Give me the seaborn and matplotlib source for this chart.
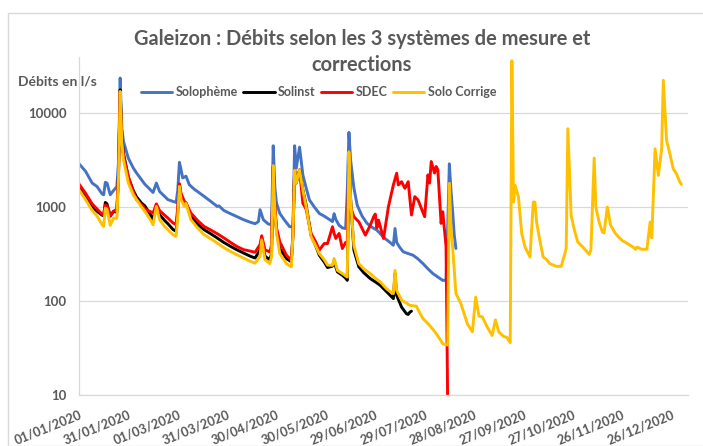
import pandas as pd
import matplotlib
matplotlib.use("Agg")
import matplotlib.pyplot as plt
import matplotlib.dates as mdates
import matplotlib.ticker as mticker
from matplotlib.patches import Rectangle
import seaborn as sns

START = pd.Timestamp("2020-01-01")

# Daily discharge (l/s) per measuring system, keyed by day number since 01/01/2020
solopheme_days = [0, 4, 8, 11, 14, 15, 16, 17, 19, 21, 23, 24, 25, 26, 27, 30, 33, 35, 38, 40,
                  43, 45, 47, 49, 52, 54, 57, 59, 60, 61, 62, 63, 65, 67, 70, 73, 76, 80, 84, 85,
                  88, 92, 96, 100, 104, 107, 109, 110, 112, 115, 117, 118, 119, 120, 122, 125, 128, 130, 131, 132,
                  134, 136, 138, 140, 143, 146, 149, 152, 154, 155, 156, 158, 160, 162, 163, 164, 165, 167, 169, 172,
                  175, 178, 181, 184, 186, 189, 191, 192, 193, 195, 197, 200, 203, 206, 209, 212, 215, 218, 221, 223,
                  224, 225, 226, 227, 228, 229]
solopheme_vals = [2890, 2400, 1800, 1650, 1380, 1350, 1830, 1800, 1350, 1500, 1650, 3000, 23600, 7000, 5000, 3300, 2600, 2300, 1950, 1750,
                  1550, 1430, 1800, 1460, 1300, 1200, 1150, 1120, 1500, 2990, 2500, 2040, 2130, 1730, 1550, 1420, 1300, 1150, 1015, 1030,
                  920, 850, 790, 733, 690, 665, 700, 937, 733, 660, 648, 4490, 1600, 1100, 855, 720, 617, 620, 4490, 2590,
                  4340, 2200, 1600, 1190, 1000, 855, 800, 740, 700, 850, 740, 640, 600, 591, 1500, 6230, 3180, 1600, 1050, 800,
                  670, 610, 568, 500, 462, 420, 392, 591, 420, 370, 334, 320, 307, 280, 250, 220, 196, 180, 166, 166,
                  600, 2880, 1500, 900, 500, 362]

solinst_days = [0, 4, 8, 11, 14, 15, 16, 17, 19, 21, 23, 24, 25, 26, 27, 30, 33, 35, 38, 40,
                43, 45, 47, 49, 52, 54, 57, 59, 60, 61, 62, 64, 65, 68, 72, 76, 80, 84, 88, 92,
                96, 100, 104, 107, 110, 111, 113, 116, 117, 118, 119, 120, 122, 126, 129, 130, 131, 132, 134, 136,
                138, 141, 144, 146, 149, 151, 154, 155, 157, 160, 162, 163, 164, 165, 167, 170, 173, 177, 180, 183,
                186, 188, 191, 192, 193, 196, 199, 200, 201, 202]
solinst_vals = [1660, 1300, 1015, 900, 820, 809, 1120, 1080, 800, 900, 880, 2200, 17700, 5500, 3750, 2040, 1500, 1280, 1100, 1030,
                850, 733, 1060, 828, 720, 665, 580, 551, 900, 1730, 1300, 1100, 1110, 797, 660, 574, 520, 468, 420, 382,
                350, 324, 300, 287, 350, 468, 300, 275, 320, 2710, 950, 560, 362, 283, 261, 520, 2480, 1800, 2480, 1520,
                1050, 500, 380, 307, 260, 227, 235, 261, 204, 188, 175, 166, 3900, 1250, 348, 231, 200, 173, 160, 147,
                130, 120, 106, 196, 115, 86, 73, 72, 76, 78]

sdec_days = [0, 4, 8, 11, 14, 15, 16, 17, 19, 21, 23, 24, 25, 26, 27, 30, 33, 35, 38, 40,
             43, 45, 47, 49, 52, 54, 57, 59, 60, 61, 62, 64, 65, 68, 72, 76, 80, 84, 88, 92,
             96, 100, 104, 107, 110, 111, 113, 116, 117, 118, 119, 120, 122, 126, 129, 130, 131, 132, 134, 136,
             138, 141, 144, 146, 149, 151, 154, 155, 156, 158, 160, 162, 163, 164, 165, 167, 170, 174, 177, 179,
             180, 181, 182, 185, 188, 191, 193, 194, 196, 198, 200, 202, 204, 206, 208, 210, 212, 213, 214, 216,
             217, 218, 220, 221, 223, 224]
sdec_vals = [1760, 1400, 1080, 950, 840, 828, 1050, 1030, 808, 900, 950, 2200, 16300, 5000, 3500, 2120, 1450, 1200, 1050, 953,
             900, 863, 1080, 914, 820, 764, 680, 648, 1000, 1770, 1400, 1150, 1100, 863, 720, 622, 570, 520, 470, 421,
             380, 352, 340, 330, 400, 495, 350, 333, 400, 2700, 1000, 600, 427, 307, 272, 500, 2480, 1900, 2480, 1100,
             950, 524, 420, 348, 409, 409, 617, 524, 463, 524, 362, 420, 420, 3740, 1000, 789, 697, 502, 642, 789,
             841, 600, 726, 463, 1010, 1720, 2290, 1720, 1860, 1580, 1860, 823, 1290, 1190, 968, 789, 2200, 1800, 3050, 2300,
             2700, 2500, 670, 891, 380, 8]

solo_corrige_days = [0, 4, 8, 11, 14, 15, 16, 17, 19, 21, 23, 24, 25, 26, 27, 30, 33, 35, 38, 40,
                     43, 45, 47, 49, 52, 54, 57, 59, 60, 61, 62, 64, 65, 68, 72, 76, 80, 84, 88, 92,
                     96, 100, 104, 107, 110, 111, 113, 116, 117, 118, 119, 120, 122, 126, 129, 130, 131, 132, 134, 136,
                     138, 141, 144, 146, 149, 151, 154, 155, 157, 160, 162, 163, 164, 165, 167, 170, 173, 177, 180, 183,
                     186, 188, 191, 192, 193, 196, 199, 201, 205, 207, 209, 211, 213, 215, 217, 219, 221, 224, 225, 226,
                     227, 229, 232, 234, 236, 239, 241, 243, 245, 248, 251, 253, 255, 258, 260, 262, 263, 264, 265, 267,
                     269, 271, 274, 276, 277, 278, 280, 282, 284, 286, 290, 293, 296, 297, 299, 301, 303, 307, 310, 311,
                     313, 314, 316, 318, 319, 321, 323, 326, 330, 334, 337, 338, 339, 342, 345, 347, 348, 350, 352, 354,
                     355, 357, 359, 361, 363, 365, 366]
solo_corrige_vals = [1530, 1200, 920, 800, 650, 622, 975, 950, 640, 764, 760, 2000, 17000, 5000, 3190, 1800, 1350, 1200, 1000, 900,
                     750, 648, 1015, 733, 620, 574, 510, 488, 800, 1660, 1200, 1015, 1100, 733, 600, 508, 460, 414, 370, 337,
                     310, 286, 265, 253, 300, 449, 275, 250, 300, 2760, 900, 524, 320, 250, 231, 500, 2480, 1800, 2480, 1520,
                     1010, 482, 380, 320, 275, 241, 240, 283, 212, 196, 185, 180, 3900, 1190, 392, 250, 220, 196, 175, 160,
                     140, 130, 120, 212, 130, 102, 95, 90, 88, 75, 65, 60, 55, 50, 45, 40, 35, 34, 1790, 600,
                     378, 120, 94, 73, 57, 47, 110, 69, 68, 53, 43, 63, 47, 42, 41, 36, 36000, 1130, 1700, 1280,
                     520, 375, 294, 1130, 1130, 692, 441, 294, 277, 250, 234, 234, 361, 6810, 815, 565, 425, 361, 313, 350,
                     3320, 1000, 692, 542, 530, 1000, 638, 520, 441, 401, 370, 355, 375, 355, 355, 692, 472, 4170, 2170, 4170,
                     22300, 5120, 3690, 2560, 2260, 1850, 1740]

tick_every_days = 30
n_ticks = 13
y_ticks = [10, 100, 1000, 10000]

TEXT = "#595959"
GRID = "#d9d9d9"

sns.set_style("white")
plt.rcParams["font.family"] = ["Lato", "DejaVu Sans"]

W, H = 703, 446
fig = plt.figure(figsize=(W / 100, H / 100), dpi=100)
fig.patches.append(Rectangle((8 / W, 0), 1, 1 - 13 / H, transform=fig.transFigure,
                             fill=False, edgecolor=GRID, lw=1))
ax = fig.add_axes([79 / W, 1 - 395 / H, (688 - 79) / W, (395 - 57) / H])


def to_dates(days):
    return START + pd.to_timedelta(days, unit="D")


series = [
    ("Solophème", solopheme_days, solopheme_vals, "#4472C4"),
    ("Solinst", solinst_days, solinst_vals, "#000000"),
    ("SDEC", sdec_days, sdec_vals, "#FF0000"),
    ("Solo Corrige", solo_corrige_days, solo_corrige_vals, "#FFC000"),
]
for name, d, v, c in series:
    frame = pd.DataFrame({"date": to_dates(d), "debit": v})
    sns.lineplot(data=frame, x="date", y="debit", ax=ax, color=c, lw=2.1,
                 label=name, legend=False)

ax.set_yscale("log")
ax.set_ylim(10, 39500)
ax.set_xlim(START, START + pd.Timedelta(days=370))

ax.yaxis.set_major_locator(mticker.FixedLocator(y_ticks))
ax.yaxis.set_major_formatter(mticker.FuncFormatter(lambda v, p: f"{v:.0f}"))
ax.yaxis.set_minor_locator(mticker.NullLocator())
ax.xaxis.set_major_locator(mticker.FixedLocator(
    [mdates.date2num(START + pd.Timedelta(days=tick_every_days * k)) for k in range(n_ticks)]))
ax.xaxis.set_major_formatter(mdates.DateFormatter("%d/%m/%Y"))

ax.grid(axis="y", color=GRID, lw=0.9)
ax.grid(axis="x", visible=False)
for s in ("top", "right"):
    ax.spines[s].set_visible(False)
for s in ("left", "bottom"):
    ax.spines[s].set_color(GRID)
    ax.spines[s].set_linewidth(0.9)
ax.set_xlabel("")
ax.set_ylabel("")
ax.tick_params(axis="both", length=0, colors=TEXT)
ax.tick_params(axis="y", pad=9, labelsize=9.5)
ax.tick_params(axis="x", pad=9.5, labelrotation=22, labelsize=9.2)
for lbl in ax.get_yticklabels():
    lbl.set_fontweight("bold")
for lbl in ax.get_xticklabels():
    lbl.set_ha("right")
    lbl.set_rotation_mode("anchor")
    lbl.set_fontweight("bold")

handles, labels = ax.get_legend_handles_labels()
leg = fig.legend(handles, labels, loc="center left", bbox_to_anchor=(141 / W, 1 - 92 / H),
                 ncol=4, frameon=False, fontsize=9, handlelength=2.5, handletextpad=0.3,
                 columnspacing=0.4, borderpad=0, borderaxespad=0)
for t in leg.get_texts():
    t.set_color(TEXT)
    t.set_fontweight("bold")

fig.text(362 / W, 1 - 52 / H, "Galeizon : Débits selon les 3 systèmes de mesure et\ncorrections",
         ha="center", va="center", fontsize=14.4, fontweight="bold", color=TEXT, linespacing=1.38)
fig.text(18 / W, 1 - 82 / H, "Débits en l/s", ha="left", va="center", fontsize=10,
         fontweight="bold", color=TEXT)

fig.savefig("out.png", dpi=100, facecolor="white")
